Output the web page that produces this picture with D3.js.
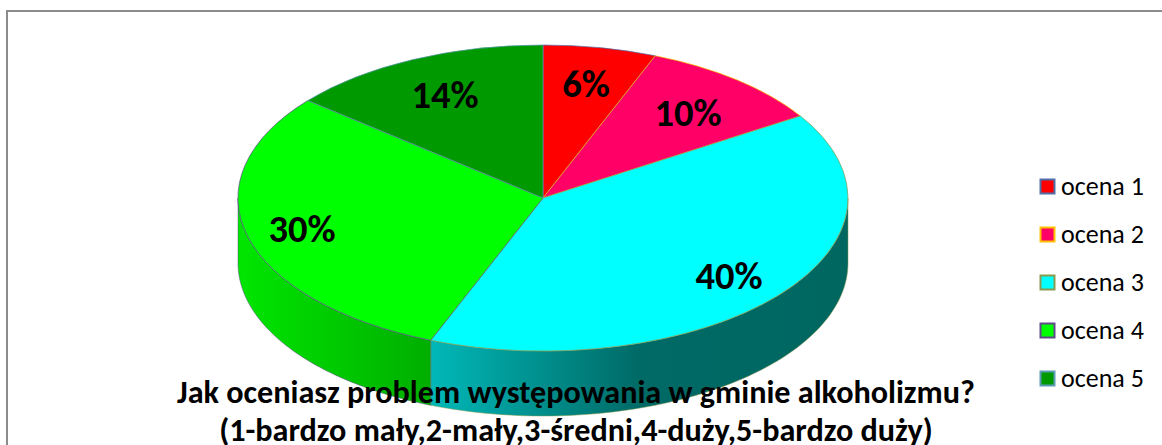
<!DOCTYPE html>
<html><head><meta charset="utf-8">
<script src="https://cdn.jsdelivr.net/npm/d3@7/dist/d3.min.js"></script>
<style>html,body{margin:0;padding:0;background:#fff}svg{display:block}text{font-family:Carlito,Calibri,"Open Sans","Noto Sans",sans-serif}</style>
</head><body><svg id="c" width="1162" height="445"></svg>
<script>
const categories=["ocena 1","ocena 2","ocena 3","ocena 4","ocena 5"];
const values=[6,10,40,30,14];
const topColors=["#ff0000","#ff0066","#00ffff","#00ff00","#009900"];
const edgeColors=["#4f6fa8","#ffc000","#8a9a50","#604a8b","#5b9bb5"];
const titleLines=["Jak oceniasz problem występowania w gminie alkoholizmu?","(1-bardzo mały,2-mały,3-średni,4-duży,5-bardzo duży)"];

const W=1162,H=445,cx=543,cy=198,rx=305,ry=153,depth=65;
const svg=d3.select("#c");
const defs=svg.append("defs");
const gC=defs.append("linearGradient").attr("id","sideCyan").attr("gradientUnits","userSpaceOnUse").attr("x1",431).attr("x2",848).attr("y1",0).attr("y2",0);
[[0,"#00b8b8"],[0.5,"#006a66"],[1,"#006660"]].forEach(s=>gC.append("stop").attr("offset",s[0]).attr("stop-color",s[1]));
const gG=defs.append("linearGradient").attr("id","sideGreen").attr("gradientUnits","userSpaceOnUse").attr("x1",238).attr("x2",431).attr("y1",0).attr("y2",0);
[[0,"#00e600"],[1,"#00ae00"]].forEach(s=>gG.append("stop").attr("offset",s[0]).attr("stop-color",s[1]));

svg.append("path").attr("d",d3.line()([[7,H],[7,11],[W,11]])).attr("fill","none").attr("stroke","#8c8c8c").attr("stroke-width",2);

const arcs=d3.pie().sort(null).value(d=>d)(values);
const px=a=>cx+rx*Math.sin(a), py=a=>cy-ry*Math.cos(a);

// side wall
const sideArea=d3.area().x(a=>px(a)).y0(a=>py(a)).y1(a=>py(a)+depth);
const sideFill=["none","none","url(#sideCyan)","url(#sideGreen)","none"];
arcs.forEach((d,i)=>{
  const a0=Math.max(d.startAngle,Math.PI/2),a1=Math.min(d.endAngle,Math.PI*1.5);
  if(a1<=a0)return;
  const n=80,pts=d3.range(n+1).map(k=>a0+(a1-a0)*k/n);
  svg.append("path").attr("d",sideArea(pts)).attr("fill",sideFill[i]).attr("stroke",edgeColors[i]).attr("stroke-width",0.5);
});

// top face
const face=svg.append("g").attr("transform",`translate(${cx},${cy}) scale(${rx},${ry})`);
const arc=d3.arc().innerRadius(0).outerRadius(1);
face.selectAll("path").data(arcs).join("path").attr("d",arc)
  .attr("fill",(d,i)=>topColors[i]).attr("stroke",(d,i)=>edgeColors[i])
  .attr("stroke-width",0.7).attr("vector-effect","non-scaling-stroke");

// percentage labels
const labelPos=[[586,84],[688,113],[729,276],[302,229],[445,95]];
svg.selectAll("text.pct").data(values).join("text").attr("class","pct")
  .attr("x",(d,i)=>labelPos[i][0]).attr("y",(d,i)=>labelPos[i][1])
  .attr("dy","0.35em").attr("text-anchor","middle")
  .attr("font-size",38.5).attr("font-weight",700).attr("fill","#000").text(d=>d+"%");

// legend
const ly=d3.scalePoint().domain(categories).range([186,378]);
const leg=svg.selectAll("g.l").data(categories).join("g").attr("class","l").attr("transform",d=>`translate(1040,${ly(d)})`);
leg.append("rect").attr("x",0.5).attr("y",-6.5).attr("width",14).attr("height",14)
  .attr("fill",(d,i)=>topColors[i]).attr("stroke",(d,i)=>edgeColors[i]).attr("stroke-width",2);
leg.append("text").attr("x",21).attr("y",0).attr("dy","0.35em").attr("font-size",26).attr("fill","#000").text(d=>d);

// title
svg.selectAll("text.t").data(titleLines).join("text").attr("class","t")
  .attr("x",576).attr("y",(d,i)=>392+i*38).attr("dy","0.35em").attr("text-anchor","middle")
  .attr("font-size",32.2).attr("font-weight",700).attr("fill","#000").text(d=>d);
</script></body></html>
